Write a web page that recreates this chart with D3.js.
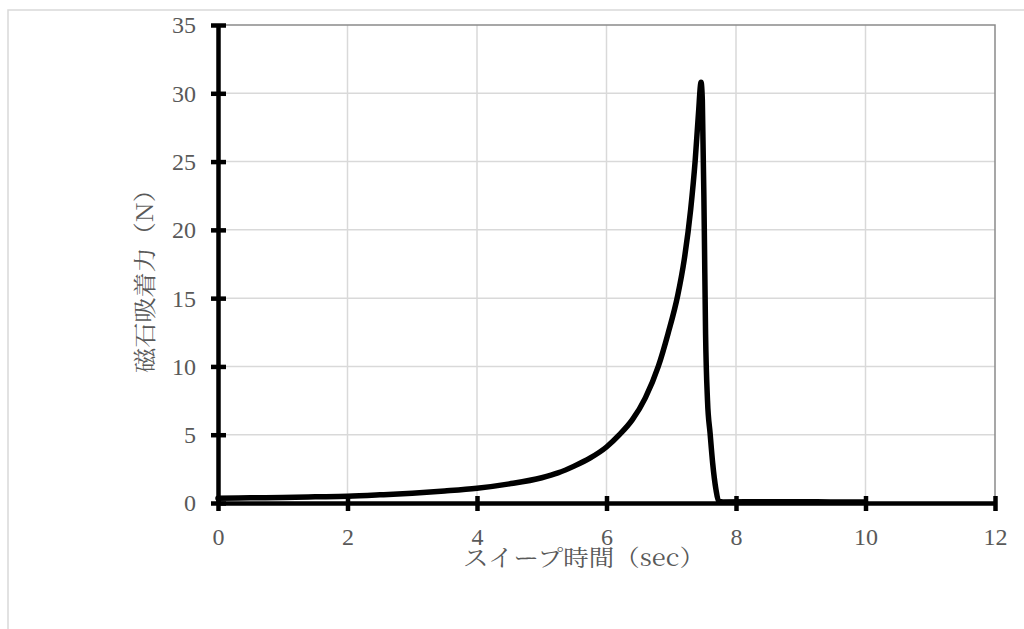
<!DOCTYPE html>
<html><head><meta charset="utf-8">
<script src="https://cdn.jsdelivr.net/npm/d3@7"></script>
<style>html,body{margin:0;padding:0;background:#fff;overflow:hidden}</style>
</head><body>
<svg id="c" width="1024" height="629"></svg>
<script>
// Data
const timeSec = [0, 0.5, 1, 1.5, 2, 2.5, 3, 3.5, 4, 4.5, 5, 5.25, 5.5, 5.75, 6, 6.2, 6.4, 6.6, 6.8, 6.95, 7.1, 7.2, 7.3, 7.37, 7.42, 7.46, 7.48, 7.51, 7.53, 7.56, 7.6, 7.64, 7.69, 7.73, 7.8, 8.5, 9, 9.5, 10];
const forceN  = [0.35, 0.38, 0.4, 0.45, 0.5, 0.6, 0.72, 0.88, 1.08, 1.4, 1.85, 2.2, 2.7, 3.3, 4.1, 5.0, 6.1, 7.7, 10.0, 12.4, 15.2, 17.8, 21.5, 25.1, 28.5, 30.8, 29.5, 20.2, 12.4, 7.5, 5.1, 2.9, 1.0, 0.15, 0.08, 0.1, 0.1, 0.08, 0.08];
const xTicks = [0, 2, 4, 6, 8, 10, 12];
const yTicks = [0, 5, 10, 15, 20, 25, 30, 35];
const xTitle = "スイープ時間（sec）";
const yTitle = "磁石吸着力（N）";

const svg = d3.select("#c");
const L = 218, R = 995, T = 25, B = 503;
const x = d3.scaleLinear().domain([0, 12]).range([L, R]);
const y = d3.scaleLinear().domain([0, 35]).range([B, T]);
const grey = "#595959";
const serif = '"Liberation Serif", serif';
const jp = '"Noto Serif CJK JP", "Liberation Serif", serif';

// outer chart border
svg.append("rect").attr("x", 8).attr("y", 10).attr("width", 1040).attr("height", 640)
  .attr("fill", "none").attr("stroke", "#d9d9d9").attr("stroke-width", 1.5);

// gridlines
svg.append("g").selectAll("line").data(yTicks.slice(1, -1)).join("line")
  .attr("x1", L).attr("x2", R).attr("y1", d => y(d)).attr("y2", d => y(d))
  .attr("stroke", "#d9d9d9").attr("stroke-width", 1.5);
svg.append("g").selectAll("line").data(xTicks.slice(1, -1)).join("line")
  .attr("y1", T).attr("y2", B).attr("x1", d => x(d)).attr("x2", d => x(d))
  .attr("stroke", "#d9d9d9").attr("stroke-width", 1.5);

// plot border top/right
svg.append("path").attr("d", `M${L},${T}H${R}V${B}`).attr("fill", "none")
  .attr("stroke", "#8a8a8a").attr("stroke-width", 1.5);

// data line
const line = d3.line().x((d, i) => x(timeSec[i])).y(d => y(d)).curve(d3.curveMonotoneX);
svg.append("path").datum(forceN).attr("d", line).attr("fill", "none")
  .attr("stroke", "#000").attr("stroke-width", 5.5).attr("stroke-linejoin", "round").attr("stroke-linecap", "round");

// axes
const xAxis = d3.axisBottom(x).tickValues(xTicks).tickSize(0).tickFormat(d3.format("d"));
const yAxis = d3.axisLeft(y).tickValues(yTicks).tickSize(0).tickFormat(d3.format("d"));
const gx = svg.append("g").attr("transform", `translate(0,${B})`).call(xAxis);
const gy = svg.append("g").attr("transform", `translate(${L},0)`).call(yAxis);
[gx, gy].forEach(g => {
  g.attr("font-family", serif).attr("font-size", 24);
  g.select(".domain").attr("stroke", "#000").attr("stroke-width", 4.5);
  g.selectAll("text").attr("font-family", serif).attr("font-size", 24).attr("fill", grey);
});
gx.selectAll(".tick text").attr("dy", 0).attr("y", 42);
gy.selectAll(".tick text").attr("x", -22).attr("dy", "0.33em");
// crossing tick marks
gx.selectAll(".tick").append("line").attr("y1", -7).attr("y2", 8).attr("stroke", "#000").attr("stroke-width", 4.5);
gy.selectAll(".tick").append("line").attr("x1", -7).attr("x2", 8).attr("stroke", "#000").attr("stroke-width", 4.5);

// titles
svg.append("text").attr("x", 584).attr("y", 566).attr("text-anchor", "middle")
  .attr("font-family", jp).attr("font-size", 23).attr("fill", grey)
  .attr("textLength", 242).attr("lengthAdjust", "spacingAndGlyphs").text(xTitle);
svg.append("text").attr("transform", "translate(153,275) rotate(-90)").attr("text-anchor", "middle")
  .attr("font-family", jp).attr("font-size", 23).attr("fill", grey)
  .attr("textLength", 196).attr("lengthAdjust", "spacingAndGlyphs").text(yTitle);
</script>
</body></html>
